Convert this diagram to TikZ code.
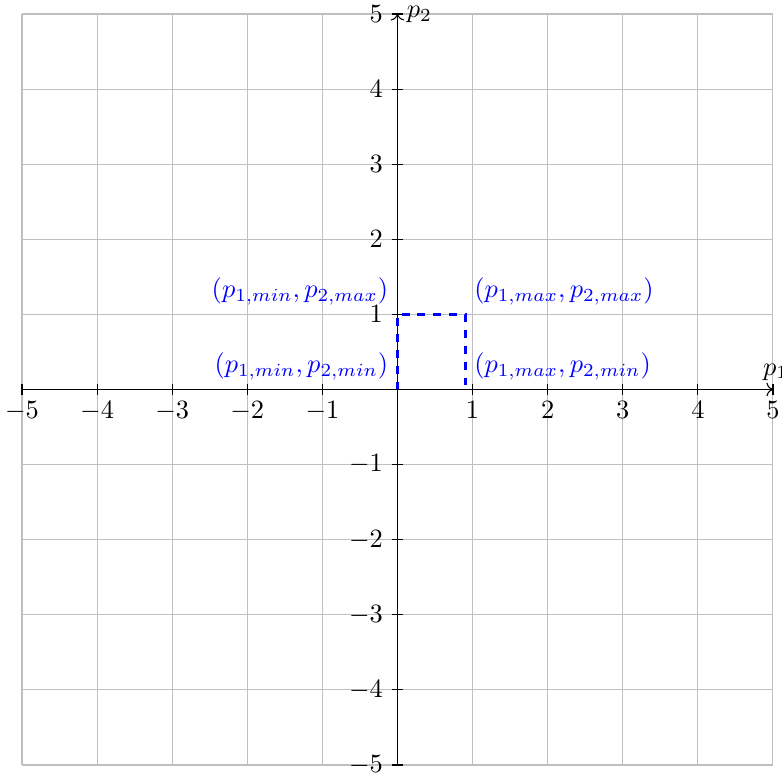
\documentclass[tikz,border=0pt]{standalone}
\usepackage{xcolor}
\usepackage{tikz}
\usetikzlibrary{arrows.meta, positioning}

\begin{document}
\begin{tikzpicture}[
        % Styles
        gridline/.style={thin, black!25},
        axisline/.style={->, black},
        tickmark/.style={black},
        xticklabel/.style={anchor=north, yshift=-1pt},
        yticklabel/.style={anchor=east, xshift=-2pt},
        boxline/.style={very thick, dashed, blue},
        boxlabel/.style={blue},
    ]

    \useasboundingbox (-5.293,-5.146) rectangle (5.12,5.186);

    % Grid
    \draw[gridline] (-5,-5) grid (5,5);

    % Axes
    \coordinate (xmin) at (-5,0);
    \coordinate (xmax) at (5,0);
    \coordinate (ymin) at (0,-5);
    \coordinate (ymax) at (0,5);
    \draw[axisline] (xmin) -- (xmax);
    \draw[axisline] (ymin) -- (ymax);

    % Ticks and tick labels
    \foreach \i in {-5,-4,-3,-2,-1,1,2,3,4,5} {
        \draw[tickmark] (\i,-2.1pt) -- (\i,2.1pt);
        \draw[tickmark] (-2.1pt,\i) -- (2.1pt,\i);
        \node[xticklabel] (xt\i) at (\i,0) {$\i$};
        \node[yticklabel] (yt\i) at (0,\i) {$\i$};
    }

    % Axis labels
    \node[above, xshift=1pt] (p1) at (xmax) {$p_1$};
    \node[right] (p2) at (ymax) {$p_2$};

    % Box corners
    \coordinate (c00) at (0,0);
    \coordinate (c01) at (0,1);
    \coordinate (c11) at (0.9,1);
    \coordinate (c10) at (0.9,0);
    \draw[boxline] (c00) -- (c01) -- (c11) -- (c10);

    % Corner labels
    \node[boxlabel, above left] (minmax) at (c01) {$(p_{1,min},p_{2,max})$};
    \node[boxlabel, above left] (minmin) at (c00) {$(p_{1,min},p_{2,min})$};
    \node[boxlabel, above right] (maxmax) at (c11) {$(p_{1,max},p_{2,max})$};
    \node[boxlabel, above right] (maxmin) at (c10) {$(p_{1,max},p_{2,min})$};

\end{tikzpicture}
\end{document}
